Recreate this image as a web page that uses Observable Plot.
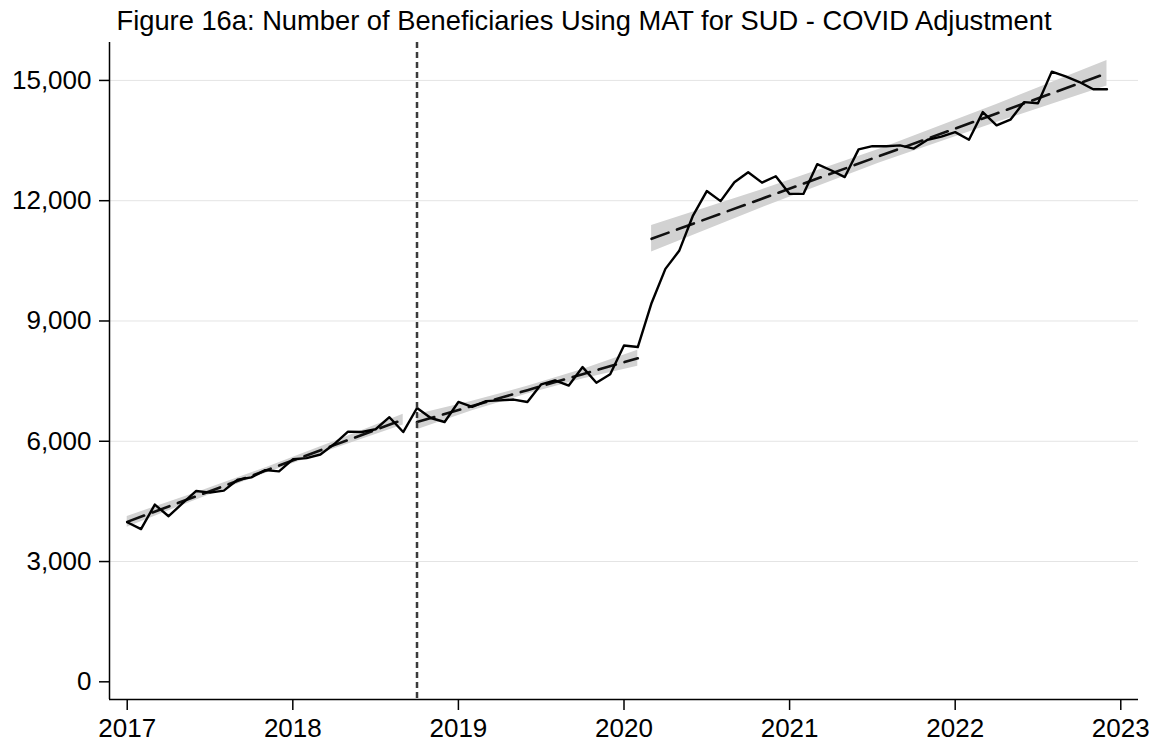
<!DOCTYPE html>
<html>
<head>
<meta charset="utf-8">
<script src="https://cdn.jsdelivr.net/npm/d3@7"></script>
<script src="https://cdn.jsdelivr.net/npm/@observablehq/plot@0.6"></script>
<style>
  body { margin: 0; background: #fff; font-family: "Liberation Sans", Arial, Helvetica, sans-serif; }
  #title { width: 1156px; height: 40px; box-sizing: border-box; padding-top: 1px; padding-left: 12px;
           line-height: 40px; font-size: 27.3px; text-align: center; color: #000; white-space: nowrap; }
</style>
</head>
<body>
<div id="title">Figure 16a: Number of Beneficiaries Using MAT for SUD - COVID Adjustment</div>
<div id="chart"></div>
<script>
// ---- data ----
const startYear = 2017;
const years = [2017, 2018, 2019, 2020, 2021, 2022];
const values2017 = [3980, 3810, 4420, 4130, 4450, 4760, 4720, 4770, 5040, 5100, 5280, 5250];
const values2018 = [5550, 5580, 5670, 5930, 6240, 6230, 6300, 6600, 6230, 6830, 6580, 6480];
const values2019 = [6980, 6860, 7000, 7020, 7040, 6980, 7420, 7520, 7390, 7850, 7460, 7670];
const values2020 = [8390, 8350, 9450, 10300, 10750, 11630, 12240, 11990, 12460, 12710, 12450, 12610];
const values2021 = [12170, 12170, 12910, 12760, 12590, 13280, 13360, 13360, 13380, 13300, 13520, 13600];
const values2022 = [13710, 13520, 14210, 13880, 14020, 14460, 14430, 15220, 15100, 14960, 14780, 14780];
const valuesByYear = [values2017, values2018, values2019, values2020, values2021, values2022];

// fitted trend segments (months since Jan 2017) with confidence band
const fitSegment = ["A","A","A","A","A", "B","B","B","B","B", "C","C","C","C","C"];
const fitMonth   = [0, 5, 10, 15, 20,   21, 25, 29, 33, 37,   38, 46, 54.5, 63, 71];
const fitValue   = [3990, 4628, 5265, 5903, 6540,   6480, 6878, 7275, 7673, 8070,   11050, 12050, 13113, 14175, 15180];
const fitLow     = [3855, 4538, 5195, 5813, 6405,   6290, 6758, 7180, 7553, 7870,   10720, 11825, 12943, 13950, 14860];
const fitHigh    = [4125, 4718, 5335, 5993, 6675,   6670, 6998, 7370, 7793, 8270,   11380, 12275, 13283, 14400, 15500];

const interventionMonth = 21; // Oct 2018
const yTicks = [0, 3000, 6000, 9000, 12000, 15000];
const gridTicks = [3000, 6000, 9000, 12000, 15000];
const xTicks = [2017, 2018, 2019, 2020, 2021, 2022, 2023];
const xDomain = [2016.893, 2023.107];
const yDomain = [-441, 15946];

// ---- tables ----
const rows = [];
years.forEach((yr, yi) => valuesByYear[yi].forEach((v, m) => rows.push({t: yr + m / 12, v})));
const fitRows = fitMonth.map((m, i) => ({
  t: startYear + m / 12, seg: fitSegment[i], fit: fitValue[i], lo: fitLow[i], hi: fitHigh[i]
}));
const interventionT = startYear + interventionMonth / 12;

const chart = Plot.plot({
  width: 1156,
  height: 702,
  marginLeft: 109,
  marginRight: 18,
  marginTop: 2,
  marginBottom: 43,
  style: { fontFamily: '"Liberation Sans", Arial, Helvetica, sans-serif', fontSize: "26px", color: "#000", background: "#fff" },
  x: { domain: xDomain },
  y: { domain: yDomain },
  marks: [
    Plot.gridY(gridTicks, { stroke: "#e4e4e4", strokeOpacity: 1, strokeWidth: 1 }),
    Plot.areaY(fitRows, { x: "t", y1: "lo", y2: "hi", z: "seg", fill: "#d2d2d2", fillOpacity: 1 }),
    Plot.line(fitRows, { x: "t", y: "fit", z: "seg", stroke: "#111", strokeWidth: 2.6, strokeDasharray: "18,9" }),
    Plot.line(rows, { x: "t", y: "v", stroke: "#000", strokeWidth: 2.4 }),
    Plot.ruleX([interventionT], { stroke: "#3a3a3a", strokeWidth: 2.5, strokeDasharray: "6,4" }),
    Plot.axisY(yTicks, { tickFormat: d3.format(","), tickSize: 10, tickPadding: 8, fontSize: 26, label: null, stroke: "#000", strokeWidth: 1.5 }),
    Plot.axisX(xTicks, { tickFormat: d => String(d), tickSize: 11, tickPadding: 8, fontSize: 26, label: null, stroke: "#000", strokeWidth: 1.5 }),
    Plot.ruleX([xDomain[0]], { stroke: "#000", strokeWidth: 1.5 }),
    Plot.ruleY([yDomain[0]], { stroke: "#000", strokeWidth: 1.5 })
  ]
});
document.getElementById("chart").appendChild(chart);
</script>
</body>
</html>
